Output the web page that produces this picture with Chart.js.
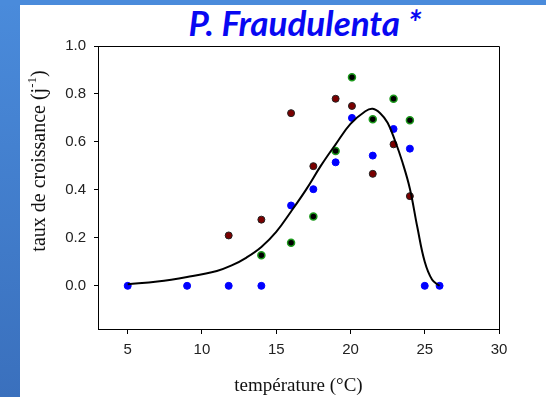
<!DOCTYPE html>
<html lang="fr">
<head>
<meta charset="utf-8">
<title>P. Fraudulenta</title>
<script src="https://cdn.jsdelivr.net/npm/chart.js@4.4.0/dist/chart.umd.min.js"></script>
<style>
  html, body { margin: 0; padding: 0; }
  body { width: 546px; height: 397px; overflow: hidden; background: #fff; position: relative; }
  .side { position: absolute; left: 0; top: 0; width: 20px; height: 397px; background: linear-gradient(#4a8bdb, #3a70bd); }
  .topband { position: absolute; left: 0; top: 0; width: 546px; height: 5px; background: #4a8bdb; }
  #title {
    position: absolute; top: 1px; left: 0; width: 610px; text-align: center;
    font: italic bold 35px Lato, "Liberation Sans", sans-serif; color: #0808f2;
  }
  .wrap { position: absolute; left: 0; top: 0; width: 546px; height: 397px; }
</style>
</head>
<body>
<div class="side"></div>
<div class="topband"></div>
<div id="title">P. Fraudulenta *</div>
<div class="wrap"><canvas id="chart" width="546" height="397"></canvas></div>
<script>
// measured growth rates, three replicate series
const blueT = [5, 9, 11.8, 14, 16, 17.5, 19, 20.1, 21.5, 22.9, 24, 25, 26];
const blueRate = [0, 0, 0, 0, 0.335, 0.403, 0.515, 0.70, 0.543, 0.654, 0.572, 0, 0];
const redT = [11.8, 14, 16, 17.5, 19, 20.1, 21.5, 22.9, 24];
const redRate = [0.21, 0.276, 0.72, 0.499, 0.78, 0.75, 0.467, 0.59, 0.374];
const greenT = [14, 16, 17.5, 19, 20.1, 21.5, 22.9, 24];
const greenRate = [0.128, 0.18, 0.289, 0.5625, 0.87, 0.695, 0.78, 0.69];

// fitted curve
const fitT = [5, 7, 9, 11, 12, 13, 14, 15, 16, 17, 18, 19, 20, 21, 21.5, 22, 22.5, 23, 23.5, 24, 24.5, 25, 25.5, 26];
const fitRate = [0.007, 0.018, 0.037, 0.062, 0.085, 0.118, 0.162, 0.225, 0.31, 0.40, 0.50, 0.59, 0.675, 0.728, 0.738, 0.72, 0.68, 0.605, 0.515, 0.405, 0.245, 0.10, 0.025, 0];

const xTicks = [5, 10, 15, 20, 25, 30];
const yTicks = [0, 0.2, 0.4, 0.6, 0.8, 1.0];

const pts = (xs, ys) => xs.map((x, i) => ({ x, y: ys[i] }));

// full box around the plot + y axis title with superscript
const frame = {
    id: 'frame',
    afterDraw(chart) {
        const { ctx, chartArea: a } = chart;
        ctx.save();
        ctx.strokeStyle = '#000';
        ctx.lineWidth = 1;
        ctx.beginPath();
        ctx.moveTo(a.left, a.top + 0.5);
        ctx.lineTo(a.right + 0.5, a.top + 0.5);
        ctx.lineTo(a.right + 0.5, a.bottom);
        ctx.stroke();

        const main = 'taux de croissance (j';
        const sup = '-1';
        ctx.font = '20px "Liberation Serif", serif';
        const w1 = ctx.measureText(main).width;
        const w3 = ctx.measureText(')').width;
        ctx.font = '13px "Liberation Serif", serif';
        const w2 = ctx.measureText(sup).width;
        const total = w1 + w2 + w3;
        ctx.translate(38, 161);
        ctx.rotate(-Math.PI / 2);
        ctx.fillStyle = '#111';
        ctx.textBaseline = 'alphabetic';
        ctx.textAlign = 'left';
        let x = -total / 2;
        ctx.font = '20px "Liberation Serif", serif';
        ctx.fillText(main, x, 7);
        x += w1;
        ctx.font = '13px "Liberation Serif", serif';
        ctx.fillText(sup, x, -2);
        x += w2;
        ctx.font = '20px "Liberation Serif", serif';
        ctx.fillText(')', x, 7);
        ctx.restore();
    }
};

const tickFont = { family: '"Liberation Sans", Arial, sans-serif', size: 15 };

new Chart(document.getElementById('chart'), {
    type: 'scatter',
    data: {
        datasets: [
            {
                type: 'line',
                data: pts(fitT, fitRate),
                borderColor: '#000',
                borderWidth: 2,
                pointRadius: 0,
                tension: 0.4,
                fill: false,
                order: 0
            },
            {
                data: pts(blueT, blueRate),
                backgroundColor: '#0000ff',
                borderColor: '#0000ff',
                borderWidth: 1,
                pointRadius: 3.5,
                order: 3
            },
            {
                data: pts(redT, redRate),
                backgroundColor: '#7a0000',
                borderColor: '#222',
                borderWidth: 1,
                pointRadius: 3.5,
                order: 2
            },
            {
                data: pts(greenT, greenRate),
                backgroundColor: '#000',
                borderColor: '#1c9a1c',
                borderWidth: 1.5,
                pointRadius: 3.5,
                order: 1
            }
        ]
    },
    options: {
        responsive: false,
        animation: false,
        layout: { padding: { left: 20, right: 47, top: 46, bottom: 0 } },
        plugins: { legend: { display: false }, tooltip: { enabled: false } },
        scales: {
            x: {
                type: 'linear',
                min: 3,
                max: 30,
                afterBuildTicks: s => { s.ticks = xTicks.map(v => ({ value: v })); },
                afterFit: s => { s.height = 68; },
                grid: { drawOnChartArea: false, drawTicks: true, tickLength: 5, color: '#000' },
                border: { display: true, color: '#000', width: 1 },
                ticks: { font: tickFont, color: '#222', padding: 7, maxRotation: 0 },
                title: {
                    display: true,
                    text: 'température (°C)',
                    font: { family: '"Liberation Serif", serif', size: 19 },
                    color: '#111',
                    padding: { top: 0, bottom: 0 }
                }
            },
            y: {
                type: 'linear',
                min: -0.18,
                max: 1.0,
                afterBuildTicks: s => { s.ticks = yTicks.map(v => ({ value: v })); },
                afterFit: s => { s.width = 78; },
                grid: { drawOnChartArea: false, drawTicks: true, tickLength: 4, color: '#000' },
                border: { display: true, color: '#000', width: 1 },
                ticks: { font: tickFont, color: '#222', padding: 8, callback: v => v.toFixed(1) }
            }
        }
    },
    plugins: [frame]
});
</script>
</body>
</html>
